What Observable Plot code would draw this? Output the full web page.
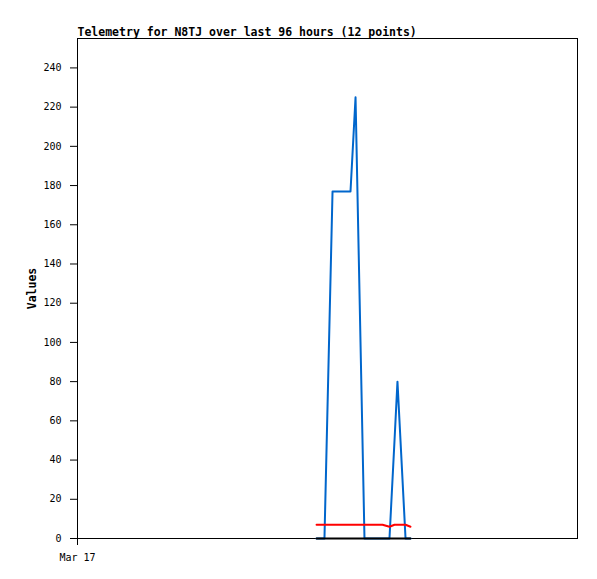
<!DOCTYPE html>
<html>
<head>
<meta charset="utf-8">
<script src="https://cdn.jsdelivr.net/npm/d3@7"></script>
<script src="https://cdn.jsdelivr.net/npm/@observablehq/plot@0.6"></script>
<style>
  html, body { margin: 0; padding: 0; background: #fff; }
  svg { display: block; }
</style>
</head>
<body>
<div id="chart"></div>
<script>
const title = "Telemetry for N8TJ over last 96 hours (12 points)";
const yLabel = "Values";
const times = [
  "2024-03-18T21:54Z", "2024-03-18T23:25Z", "2024-03-19T00:58Z", "2024-03-19T04:25Z",
  "2024-03-19T05:23Z", "2024-03-19T07:06Z", "2024-03-19T10:34Z", "2024-03-19T11:54Z",
  "2024-03-19T12:52Z", "2024-03-19T13:26Z", "2024-03-19T14:59Z", "2024-03-19T15:56Z"
];
const blueValues  = [0, 0, 177, 177, 225, 0, 0, 0, 50, 80, 0, 0];
const redValues   = [7, 7, 7, 7, 7, 7, 7, 6, 7, 7, 7, 6];
const blackValues = [0, 0, 0, 0, 0, 0, 0, 0, 0, 0, 0, 0];
const xStart = "2024-03-17T00:00Z";
const xEnd = "2024-03-21T00:00Z";
const xTickLabels = ["Mar 17"];
const yTicks = [0, 20, 40, 60, 80, 100, 120, 140, 160, 180, 200, 220, 240];

const dates = times.map(t => new Date(t));
const series = (vals) => vals.map((v, i) => ({t: dates[i], v}));
const xTicks = [new Date(xStart)];

const chart = Plot.plot({
  width: 597,
  height: 579,
  marginLeft: 77,
  marginTop: 38,
  marginRight: 20,
  marginBottom: 41,
  style: {fontFamily: "'DejaVu Sans Mono', monospace", fontSize: "10px", color: "#000", background: "#fff"},
  x: {type: "utc", domain: [new Date(xStart), new Date(xEnd)]},
  y: {domain: [0, 255]},
  marks: [
    Plot.frame({stroke: "#000", strokeWidth: 1}),
    Plot.axisY({ticks: yTicks, tickSize: 7, tickPadding: 9, label: null, tickFormat: d => String(d)}),
    Plot.axisX({ticks: xTicks, tickSize: 7, tickPadding: 8, label: null, tickFormat: (d, i) => xTickLabels[i]}),
    Plot.line(series(blueValues), {x: "t", y: "v", stroke: "#0066cc", strokeWidth: 2, curve: "linear"}),
    Plot.line(series(redValues), {x: "t", y: "v", stroke: "#ff0000", strokeWidth: 2}),
    Plot.line(series(blackValues), {x: "t", y: "v", stroke: "#000", strokeWidth: 2}),
    Plot.text([title], {frameAnchor: "top-left", text: d => d, textAnchor: "start", lineAnchor: "bottom", dy: -3, fontWeight: "bold", fontSize: 11.5}),
    Plot.text([yLabel], {frameAnchor: "left", text: d => d, rotate: -90, dx: -45, textAnchor: "middle", fontWeight: "bold", fontSize: 11.5})
  ]
});
document.getElementById("chart").appendChild(chart);
</script>
</body>
</html>
